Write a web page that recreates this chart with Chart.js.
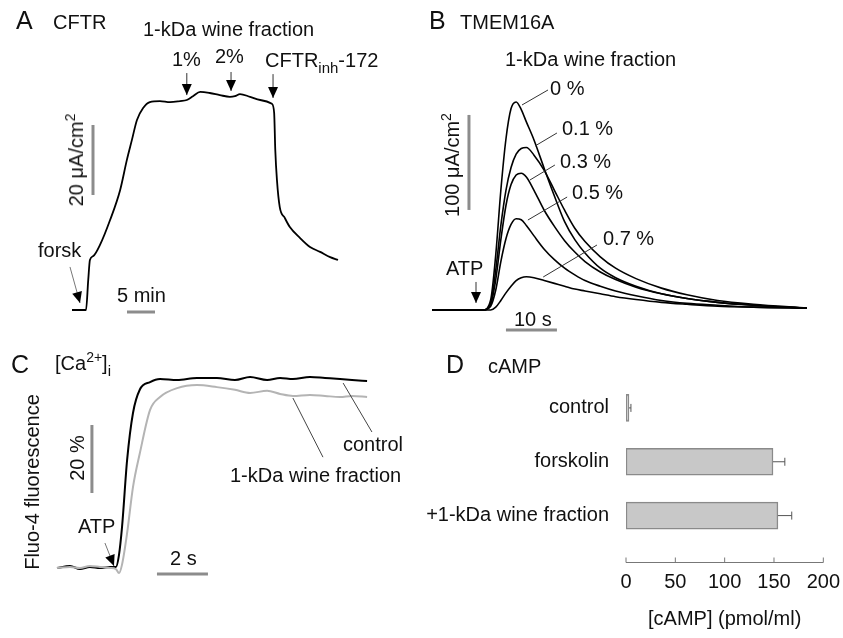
<!DOCTYPE html>
<html>
<head>
<meta charset="utf-8">
<script src="https://cdn.jsdelivr.net/npm/chart.js@4.4.1/dist/chart.umd.min.js"></script>
<style>
  body { margin: 0; background: #fff; }
  #fig { position: relative; width: 843px; height: 638px; overflow: hidden;
         font-family: "Liberation Sans", Arial, sans-serif; color: #111; }
  canvas { position: absolute; }
  .t { position: absolute; font-size: 20px; line-height: 20px; white-space: nowrap; }
  .big { font-size: 25px; line-height: 25px; }
  .rot { transform: translate(-50%, -50%) rotate(-90deg); }
  sup { font-size: 14px; line-height: 0; vertical-align: 8px; }
  sub { font-size: 15px; line-height: 0; vertical-align: -6px; }
</style>
</head>
<body>
<div id="fig">
  <canvas id="chartA" width="420" height="330" style="left:0;top:0"></canvas>
  <canvas id="chartB" width="423" height="340" style="left:420px;top:0"></canvas>
  <canvas id="chartC" width="420" height="308" style="left:0;top:330px"></canvas>
  <canvas id="chartD" width="440" height="298" style="left:420px;top:340px"></canvas>

  <!-- panel A -->
  <div class="t big" style="left:16px;top:8px">A</div>
  <div class="t" style="left:53px;top:12px">CFTR</div>
  <div class="t" style="left:143px;top:19px">1-kDa wine fraction</div>
  <div class="t" style="left:172px;top:49px">1%</div>
  <div class="t" style="left:215px;top:46px">2%</div>
  <div class="t" style="left:265px;top:50px">CFTR<sub>inh</sub>-172</div>
  <div class="t" style="left:38px;top:240px">forsk</div>
  <div class="t" style="left:117px;top:285px">5 min</div>
  <div class="t rot" style="left:76px;top:160px">20 μA/cm<sup>2</sup></div>

  <!-- panel B -->
  <div class="t big" style="left:429px;top:8px">B</div>
  <div class="t" style="left:460px;top:12px">TMEM16A</div>
  <div class="t" style="left:505px;top:49px">1-kDa wine fraction</div>
  <div class="t" style="left:550px;top:78px">0 %</div>
  <div class="t" style="left:562px;top:118px">0.1 %</div>
  <div class="t" style="left:560px;top:151px">0.3 %</div>
  <div class="t" style="left:572px;top:182px">0.5 %</div>
  <div class="t" style="left:603px;top:228px">0.7 %</div>
  <div class="t" style="left:446px;top:258px">ATP</div>
  <div class="t" style="left:514px;top:309px">10 s</div>
  <div class="t rot" style="left:452px;top:165px">100 μA/cm<sup>2</sup></div>

  <!-- panel C -->
  <div class="t big" style="left:11px;top:352px">C</div>
  <div class="t" style="left:55px;top:353px">[Ca<sup>2+</sup>]<sub>i</sub></div>
  <div class="t rot" style="left:32px;top:482px">Fluo-4 fluorescence</div>
  <div class="t rot" style="left:77px;top:458px">20 %</div>
  <div class="t" style="left:78px;top:516px">ATP</div>
  <div class="t" style="left:170px;top:548px">2 s</div>
  <div class="t" style="left:343px;top:434px">control</div>
  <div class="t" style="left:230px;top:465px">1-kDa wine fraction</div>

  <!-- panel D -->
  <div class="t big" style="left:446px;top:352px">D</div>
  <div class="t" style="left:488px;top:356px">cAMP</div>
</div>

<script>
// A: CFTR short-circuit current, time in min, current in uA/cm2
const aTime = [0, 2.5, 2.9, 3.2, 3.8, 5, 6.8, 8.6, 9.8, 10.7, 11.6, 12.7, 13.9, 15.7, 17.5, 19.3,
  20.5, 21.6, 22.9, 24.6, 26.4, 28.2, 29.1, 30, 31.8, 33.6, 35.7, 36.1, 36.3, 36.6, 37.1, 38,
  38.9, 40.7, 42.5, 44.3, 46.1, 47.5];
const aCurrent = [0, 0, 8.6, 14.3, 15.4, 18.6, 25.7, 34.3, 42.9, 48.6, 54.3, 57.7, 59.4, 59.7, 59.4, 59.7,
  60, 61.1, 62.3, 62, 61.4, 60.9, 61.1, 61.7, 60.9, 60, 58.9, 56.3, 45.7, 37.1, 29.4, 26.3,
  23.7, 20.6, 18, 16.6, 15.1, 14.3];

// B: TMEM16A currents, time in s, current in uA/cm2
const bTime = [0, 10, 11.5, 12.5, 13.5, 14.5, 15.5, 16.5, 17.5, 18.5, 20, 22, 24, 26, 28, 30, 33, 36, 40, 45, 50, 56, 63, 73.5];
const b0  = [0, 0, 10.5, 58, 126, 180, 212, 219, 211, 198, 179, 149, 120, 93, 74, 60, 44, 34, 25, 17, 12, 8, 5, 2];
const b01 = [0, 0, 7, 42, 89, 126, 150, 164, 170, 171, 163, 147, 126, 105, 86, 72, 56, 44, 33, 23, 16, 10, 6, 2];
const b03 = [0, 0, 6, 32, 74, 110, 132, 142, 144, 140, 126, 105, 88, 73, 61, 51, 40, 32, 24, 17, 12, 8, 5, 2];
const b05 = [0, 0, 4, 21, 51, 75, 90, 96, 95, 89, 78, 64, 53, 44, 37, 31, 25, 20, 15, 10, 7, 5, 3, 2];
const b07 = [0, 0, 0, 3, 10, 18, 25, 31, 34, 35, 34, 31, 28, 25, 22, 20, 17, 14, 11, 8, 6, 4, 3, 2];

// C: Fluo-4 fluorescence, time in s, change in %
const cTime = [0, 0.51, 0.9, 1.29, 1.69, 2.08, 2.31, 2.43, 2.55, 2.75, 2.98, 3.25, 3.65, 4.04, 4.71,
  5.49, 6.27, 6.98, 7.57, 8.24, 8.75, 9.25, 9.92, 10.51, 11.1, 11.57, 12.16];
const cControl = [0, 0.6, -0.3, 0.3, 0, 0.3, 0.3, 3.8, 12, 31.8, 45.6, 52.5, 54.7, 55.6, 55.3,
  55.9, 55.9, 55.3, 56.2, 55.3, 55.9, 55.6, 56.2, 55.9, 55.6, 55.3, 55];
const cWine = [0, 0.3, 0, 0.6, 0.3, 0, -0.3, -1.5, 1, 10.3, 23.8, 33.8, 46.5, 50.3, 52.9,
  53.8, 53.2, 52.4, 51.5, 52.1, 51.2, 50.6, 50.9, 50.6, 50.3, 50.6, 50.3];

// D: cAMP, pmol/ml
const dCategories = ['control', 'forskolin', '+1-kDa wine fraction'];
const dValues = [3, 149, 154];
const dErrors = [2, 12, 14];
const dTicks = [0, 50, 100, 150, 200];

const FONT = '"Liberation Sans", Arial, sans-serif';
const BAR_GREY = '#8c8c8c';

const pts = (xs, ys) => xs.map((x, i) => ({ x, y: ys[i] }));

// scale bars, leader lines and arrows, given in data units
function annotations(items) {
  return {
    id: 'annot',
    afterDatasetsDraw(chart) {
      const { ctx, scales: { x, y } } = chart;
      ctx.save();
      items.forEach(it => {
        const x1 = x.getPixelForValue(it.from[0]), y1 = y.getPixelForValue(it.from[1]);
        const x2 = x.getPixelForValue(it.to[0]), y2 = y.getPixelForValue(it.to[1]);
        ctx.strokeStyle = it.color || '#333';
        ctx.lineWidth = it.width || 1;
        ctx.lineCap = 'butt';
        ctx.beginPath();
        ctx.moveTo(x1, y1);
        ctx.lineTo(x2, y2);
        ctx.stroke();
        if (it.head) {
          const ang = Math.atan2(y2 - y1, x2 - x1);
          const L = 11, W = 5;
          const bx = x2 - L * Math.cos(ang), by = y2 - L * Math.sin(ang);
          ctx.fillStyle = '#000';
          ctx.beginPath();
          ctx.moveTo(x2, y2);
          ctx.lineTo(bx + W * Math.sin(ang), by - W * Math.cos(ang));
          ctx.lineTo(bx - W * Math.sin(ang), by + W * Math.cos(ang));
          ctx.closePath();
          ctx.fill();
        }
      });
      ctx.restore();
    }
  };
}

function traceOptions(xr, yr) {
  return {
    responsive: false,
    animation: false,
    layout: { padding: 0 },
    plugins: { legend: { display: false }, tooltip: { enabled: false } },
    scales: {
      x: { type: 'linear', display: false, min: xr[0], max: xr[1] },
      y: { type: 'linear', display: false, min: yr[0], max: yr[1] }
    },
    elements: { point: { radius: 0 }, line: { cubicInterpolationMode: 'monotone' } }
  };
}

// Panel A
new Chart(document.getElementById('chartA'), {
  type: 'line',
  data: {
    datasets: [{ data: pts(aTime, aCurrent), borderColor: '#000', borderWidth: 1.8 }]
  },
  options: traceOptions([-12.857, 62.143], [-5.714, 88.571]),
  plugins: [annotations([
    { from: [3.75, 32.86], to: [3.75, 52.86], color: BAR_GREY, width: 3 },
    { from: [9.82, -0.57], to: [14.82, -0.57], color: BAR_GREY, width: 3 },
    { from: [20.5, 67.7], to: [20.5, 61.4], head: true },
    { from: [28.4, 68], to: [28.4, 62.6], head: true },
    { from: [35.9, 67.4], to: [35.9, 60.6], head: true },
    { from: [-0.36, 12.3], to: [1.43, 2], head: true, color: '#777' }
  ])]
});

// Panel B
const bSeries = [b0, b01, b03, b05, b07];
new Chart(document.getElementById('chartB'), {
  type: 'line',
  data: {
    datasets: bSeries.map(s => ({ data: pts(bTime, s), borderColor: '#000', borderWidth: 1.6 }))
  },
  options: traceOptions([-2.353, 80.59], [-31.6, 326.3]),
  plugins: [annotations([
    { from: [7.25, 105.3], to: [7.25, 205.3], color: BAR_GREY, width: 3 },
    { from: [14.5, -21], to: [24.5, -21], color: BAR_GREY, width: 3 },
    { from: [8.63, 29.5], to: [8.63, 7.4], head: true },
    { from: [17.65, 215.8], to: [22.75, 231.6] },
    { from: [20.2, 172.6], to: [24.5, 186.3] },
    { from: [19.2, 136.8], to: [24.1, 152.6] },
    { from: [18.8, 94.7], to: [26.5, 118.9] },
    { from: [21.8, 34.7], to: [32.35, 68.4] }
  ])]
});

// Panel C
new Chart(document.getElementById('chartC'), {
  type: 'line',
  data: {
    datasets: [
      { data: pts(cTime, cWine), borderColor: '#b4b4b4', borderWidth: 2 },
      { data: pts(cTime, cControl), borderColor: '#000', borderWidth: 2 }
    ]
  },
  options: traceOptions([-2.235, 14.235], [-20.59, 70]),
  plugins: [annotations([
    { from: [1.37, 22.06], to: [1.37, 42.06], color: BAR_GREY, width: 3 },
    { from: [3.92, -1.76], to: [5.92, -1.76], color: BAR_GREY, width: 3 },
    { from: [1.88, 7.35], to: [2.235, 0.59], head: true, color: '#777' },
    { from: [11.22, 54.4], to: [12.35, 40], color: '#444' },
    { from: [9.25, 50], to: [10.43, 32.6], color: '#444' }
  ])]
});

// Panel D: error bars plus an inward-ticked axis line below the bars
const dAxis = {
  id: 'dAxis',
  afterDatasetsDraw(chart) {
    const { ctx, chartArea, scales: { x } } = chart;
    const meta = chart.getDatasetMeta(0);
    ctx.save();
    ctx.strokeStyle = '#555';
    ctx.lineWidth = 1;
    ctx.beginPath();
    meta.data.forEach((bar, i) => {
      const x1 = x.getPixelForValue(dValues[i]);
      const x2 = x.getPixelForValue(dValues[i] + dErrors[i]);
      ctx.moveTo(x1, bar.y); ctx.lineTo(x2, bar.y);
      ctx.moveTo(x2, bar.y - 4); ctx.lineTo(x2, bar.y + 4);
    });
    ctx.stroke();
    const ay = chartArea.bottom + 20;
    ctx.strokeStyle = '#777';
    ctx.beginPath();
    ctx.moveTo(x.getPixelForValue(dTicks[0]), ay);
    ctx.lineTo(x.getPixelForValue(dTicks[dTicks.length - 1]), ay);
    dTicks.forEach(v => {
      const px = x.getPixelForValue(v);
      ctx.moveTo(px, ay); ctx.lineTo(px, ay - 5);
    });
    ctx.stroke();
    ctx.restore();
  }
};

new Chart(document.getElementById('chartD'), {
  type: 'bar',
  data: {
    labels: dCategories,
    datasets: [{
      data: dValues,
      backgroundColor: '#c8c8c8',
      borderColor: '#8a8a8a',
      borderWidth: 1.5,
      borderSkipped: false,
      barThickness: 27
    }]
  },
  options: {
    indexAxis: 'y',
    responsive: false,
    animation: false,
    layout: { padding: { top: 41, right: 0, left: 0, bottom: 0 } },
    plugins: { legend: { display: false }, tooltip: { enabled: false } },
    scales: {
      x: {
        min: 0, max: 200,
        afterBuildTicks: s => { s.ticks = dTicks.map(v => ({ value: v })); },
        ticks: { color: '#111', font: { size: 20, family: FONT }, padding: 20, maxRotation: 0 },
        grid: { display: false },
        border: { display: false },
        title: { display: true, text: '[cAMP] (pmol/ml)', color: '#111',
                 font: { size: 20, family: FONT }, padding: { top: 4, bottom: 7 } },
        afterFit: s => { s.height = 95.5; }
      },
      y: {
        ticks: { color: '#111', font: { size: 20, family: FONT }, padding: 9 },
        grid: { display: false },
        border: { display: false },
        afterFit: s => { s.width = 206; }
      }
    }
  },
  plugins: [dAxis]
});
</script>
</body>
</html>
